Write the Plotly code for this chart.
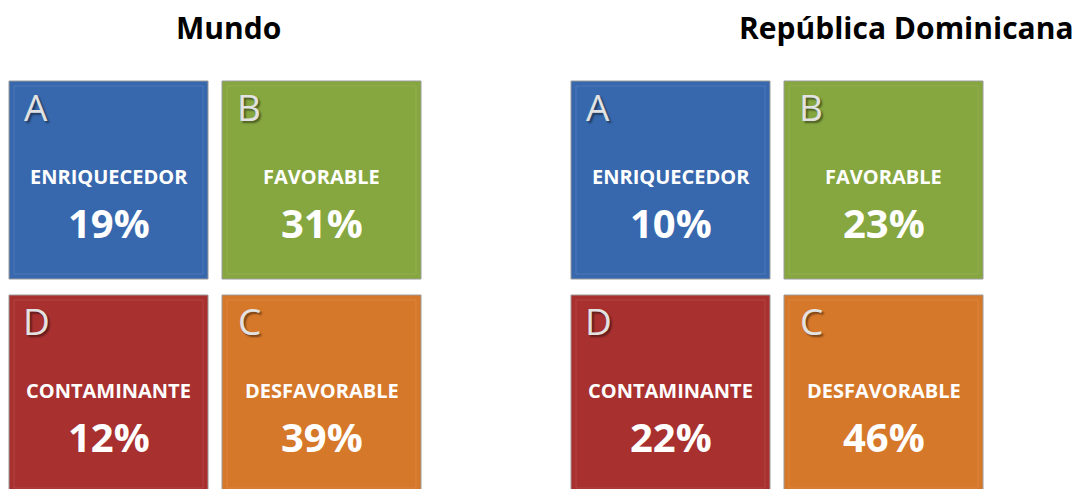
''' Tiles: percepción del plástico, Mundo vs República Dominicana '''

import plotly.graph_objects as go

# Data
GROUPS = ['Mundo', 'República Dominicana']
LETTERS = ['A', 'B', 'D', 'C']
LABELS = ['ENRIQUECEDOR', 'FAVORABLE', 'CONTAMINANTE', 'DESFAVORABLE']
MUNDO = [19, 31, 12, 39]
REP_DOM = [10, 23, 22, 46]
VALUES = [MUNDO, REP_DOM]

# Styles
TILE_COLORS = ['#3768ad', '#86a73f', '#a8302f', '#d6782a']
W, H = 1085, 489
PAGE_PAD = 8               # the page body margin, so axis units equal page pixels
GROUP_X0 = [9, 571]        # left edge of each group of tiles
TITLE_X = [228, 906]       # title centres as in the reference
TILE_W, TILE_H = 199, 198
GAP_X, GAP_Y = 14, 16
TOP = 81
FONT = 'Open Sans'

fig = go.Figure()
shapes = []
annotations = []

for g, group in enumerate(GROUPS):
    # Group title
    annotations.append(dict(
        x=TITLE_X[g], y=27, xref='x', yref='y', text=f'<b>{group}</b>',
        showarrow=False, xanchor='center', yanchor='middle',
        font=dict(family=FONT, size=30, color='#000000')
    ))
    for i, val in enumerate(VALUES[g]):
        row, col = divmod(i, 2)
        x0 = GROUP_X0[g] + col * (TILE_W + GAP_X)
        y0 = TOP + row * (TILE_H + GAP_Y)
        cx = x0 + TILE_W / 2
        # Tile and its faint inner frame
        shapes.append(dict(
            type='rect', xref='x', yref='y', x0=x0, x1=x0 + TILE_W, y0=y0, y1=y0 + TILE_H,
            fillcolor=TILE_COLORS[i], line=dict(color='#9a9a9a', width=1), layer='below'
        ))
        shapes.append(dict(
            type='rect', xref='x', yref='y', x0=x0 + 5, x1=x0 + TILE_W - 5, y0=y0 + 5, y1=y0 + TILE_H - 5,
            fillcolor='rgba(0,0,0,0)', line=dict(color='rgba(255,255,255,0.10)', width=1), layer='below'
        ))
        # Corner letter
        annotations.append(dict(
            x=x0 + 27, y=y0 + 25, xref='x', yref='y', text=LETTERS[i],
            showarrow=False, xanchor='center', yanchor='middle',
            font=dict(family=FONT, size=37, color='#e2e2e2', shadow='2px 2px 2px rgba(0,0,0,0.45)')
        ))
        # Category label
        annotations.append(dict(
            x=cx, y=y0 + 95, xref='x', yref='y', text=f'<b>{LABELS[i]}</b>',
            showarrow=False, xanchor='center', yanchor='middle',
            font=dict(family=FONT, size=20, color='#ffffff')
        ))
        # Percentage
        annotations.append(dict(
            x=cx, y=y0 + 141, xref='x', yref='y', text=f'<b>{val}%</b>',
            showarrow=False, xanchor='center', yanchor='middle',
            font=dict(family=FONT, size=40, color='#ffffff')
        ))

fig.update_layout(
    width=W, height=H,
    margin=dict(l=0, r=0, t=0, b=0),
    paper_bgcolor='#ffffff', plot_bgcolor='#ffffff',
    xaxis=dict(range=[PAGE_PAD, PAGE_PAD + W], visible=False, fixedrange=True),
    yaxis=dict(range=[PAGE_PAD + H, PAGE_PAD], visible=False, fixedrange=True),
    shapes=shapes, annotations=annotations,
    showlegend=False
)

fig.write_html('out.html')
